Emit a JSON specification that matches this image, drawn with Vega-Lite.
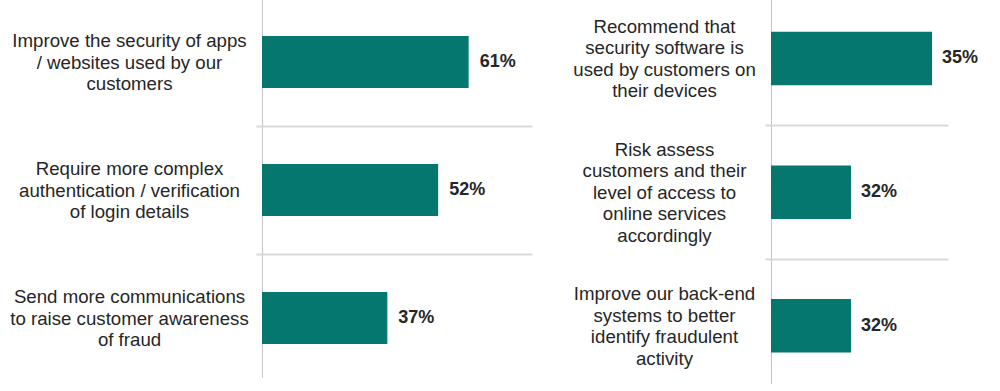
{
  "$schema": "https://vega.github.io/schema/vega-lite/v6.json",
  "padding": {"left": 9, "top": 0, "right": 0, "bottom": 0},
  "background": "white",
  "config": {
    "view": {"stroke": null},
    "font": "Liberation Sans",
    "text": {"font": "Liberation Sans"}
  },
  "spacing": 239,
  "bounds": "flush",
  "hconcat": [
    {
      "width": 270,
      "height": 375,
      "data": {"values": [
        {"category": "Improve the security of apps|/ websites used by our|customers", "value": 0.61},
        {"category": "Require more complex|authentication / verification|of login details", "value": 0.52},
        {"category": "Send more communications|to raise customer awareness|of fraud", "value": 0.37}
      ]},
      "encoding": {
        "y": {"field": "category", "type": "nominal", "sort": null,
              "scale": {"range": [-2, 382], "paddingInner": 0, "paddingOuter": 0}},
        "x": {"field": "value", "type": "quantitative",
              "scale": {"domain": [0, 0.797]},
              "axis": {"values": [0], "grid": true, "gridColor": "#c4c4c4", "gridWidth": 1,
                       "labels": false, "ticks": false, "domain": false, "title": null}}
      },
      "layer": [
        {
          "mark": {"type": "bar", "height": {"band": 0.406}, "color": "#06776f"},
          "encoding": {
            "y": {"field": "category", "type": "nominal", "sort": null,
                  "axis": {"title": null, "ticks": false, "grid": false, "domain": false,
                           "labelExpr": "split(datum.label, '|')", "labelAlign": "center",
                           "labelBaseline": "middle", "labelPadding": 133, "labelFontSize": 18.67,
                           "labelLineHeight": 21.3, "labelOffset": -20.6, "labelColor": "#262626", "labelLimit": 0,
                           "labelFont": "Liberation Sans"}}
          }
        },
        {
          "mark": {"type": "text", "align": "left", "baseline": "middle", "dx": 11,
                   "fontSize": 18, "fontWeight": "bold", "color": "#262626"},
          "encoding": {
            "text": {"field": "value", "type": "quantitative", "format": ".0%"},
            "y": {"field": "category", "type": "nominal", "sort": null,
                  "axis": {"orient": "left", "title": null, "labels": false, "domain": false,
                           "values": ["Require more complex|authentication / verification|of login details",
                                      "Send more communications|to raise customer awareness|of fraud"],
                           "bandPosition": 0, "grid": true, "gridColor": "#d9d9d9", "gridWidth": 2,
                           "ticks": true, "tickColor": "#d9d9d9", "tickWidth": 2, "tickSize": 6}}
          }
        }
      ],
      "resolve": {"axis": {"y": "independent"}}
    },
    {
      "width": 177,
      "height": 375,
      "data": {"values": [
        {"category": "Recommend that|security software is|used by customers on|their devices", "value": 0.35},
        {"category": "Risk assess|customers and their|level of access to|online services|accordingly", "value": 0.32},
        {"category": "Improve our back-end|systems to better|identify fraudulent|activity", "value": 0.32}
      ]},
      "encoding": {
        "y": {"field": "category", "type": "nominal", "sort": null,
              "scale": {"range": [-8.4, 392.7], "paddingInner": 0, "paddingOuter": 0}},
        "x": {"field": "value", "type": "quantitative",
              "scale": {"domain": [0.2904, 0.3559], "zero": false},
              "axis": {"values": [0.2904], "grid": true, "gridColor": "#c4c4c4", "gridWidth": 1,
                       "labels": false, "ticks": false, "domain": false, "title": null}}
      },
      "layer": [
        {
          "mark": {"type": "bar", "height": {"band": 0.4}, "color": "#06776f"},
          "encoding": {
            "x2": {"datum": 0.2904},
            "y": {"field": "category", "type": "nominal", "sort": null,
                  "axis": {"title": null, "ticks": false, "grid": false, "domain": false,
                           "labelExpr": "split(datum.label, '|')", "labelAlign": "center",
                           "labelBaseline": "middle", "labelPadding": 107, "labelFontSize": 18.67,
                           "labelLineHeight": 21.5,
                           "labelOffset": {"condition": {"test": "indexof(datum.value, 'Risk assess') >= 0", "value": -42.5}, "value": -31.5},
                           "labelColor": "#262626", "labelLimit": 0,
                           "labelFont": "Liberation Sans"}}
          }
        },
        {
          "mark": {"type": "text", "align": "left", "baseline": "middle", "dx": 10,
                   "fontSize": 18, "fontWeight": "bold", "color": "#262626"},
          "encoding": {
            "text": {"field": "value", "type": "quantitative", "format": ".0%"},
            "y": {"field": "category", "type": "nominal", "sort": null,
                  "axis": {"orient": "left", "title": null, "labels": false, "domain": false,
                           "values": ["Risk assess|customers and their|level of access to|online services|accordingly",
                                      "Improve our back-end|systems to better|identify fraudulent|activity"],
                           "bandPosition": 0, "grid": true, "gridColor": "#d9d9d9", "gridWidth": 2,
                           "ticks": true, "tickColor": "#d9d9d9", "tickWidth": 2, "tickSize": 6}}
          }
        }
      ],
      "resolve": {"axis": {"y": "independent"}}
    }
  ]
}
